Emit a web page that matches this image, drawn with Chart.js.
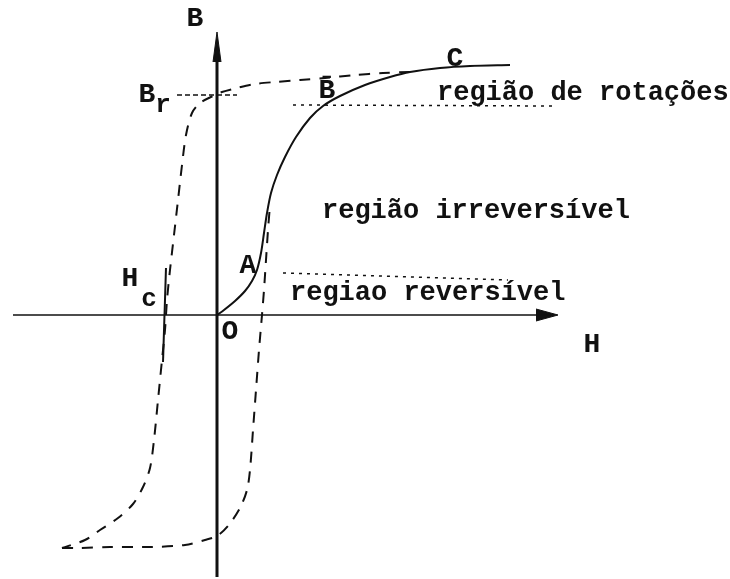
<!DOCTYPE html>
<html>
<head>
<meta charset="utf-8">
<script src="https://cdn.jsdelivr.net/npm/chart.js@4/dist/chart.umd.min.js"></script>
<style>
  html, body { margin: 0; padding: 0; background: #ffffff; }
  #wrap { width: 730px; height: 579px; position: relative; }
</style>
</head>
<body>
<div id="wrap"><canvas id="c"></canvas></div>
<script>
// ---- data (H, B in arbitrary units, origin at O) ----
const H_RANGE = [-21.7, 51.3];
const B_RANGE = [-26.4, 31.5];

// virgin (first magnetisation) curve O -> A -> B -> C
const virginH = [0, 0.7, 1.8, 2.8, 3.5, 4.0, 4.4, 4.7, 5.0, 5.4, 6.0, 6.8, 7.9, 9.3, 10.6, 12.3, 14.8, 17.3, 19.3, 22.3, 25.3, 29.3];
const virginB = [0, 0.5, 1.4, 2.4, 3.4, 4.5, 6.2, 8.2, 10.2, 12.2, 14.0, 15.8, 17.8, 19.7, 20.9, 21.9, 23.0, 23.8, 24.3, 24.7, 24.9, 25.0];

// descending branch of hysteresis loop (through Br and Hc)
const descH = [19.3, 16.6, 13.8, 10.8, 8.3, 5.8, 3.8, 2.0, 0.5, -0.4, -1.7, -2.5, -3.1, -3.5, -3.9, -4.3, -4.7, -5.0, -5.2, -5.5, -5.9, -6.3, -6.7, -7.4, -8.4, -9.9, -11.7, -13.2, -15.5];
const descB = [24.3, 24.2, 24.0, 23.7, 23.5, 23.3, 23.1, 22.7, 22.3, 21.9, 21.2, 20.2, 18.0, 15.0, 11.5, 8.0, 4.5, 1.5, -1.5, -4.5, -8.5, -12.5, -15.3, -17.2, -18.9, -20.3, -21.5, -22.5, -23.3];

// ascending branch of hysteresis loop
const ascH = [-15.5, -13.7, -10.7, -6.7, -3.2, -1.2, 0, 1.1, 2.3, 3.0, 3.3, 3.6, 3.9, 4.2, 4.5, 4.7, 4.9, 5.1, 5.3];
const ascB = [-23.3, -23.3, -23.2, -23.2, -23.0, -22.5, -22.1, -21.1, -19.3, -17.5, -15.5, -11.5, -7.5, -3.5, 0, 2.5, 5.5, 8.5, 11.0];

// axes and guide lines
const axisB_H = [0, 0];       const axisB_B = [-26.2, 26.5];
const arrowB_H = [-0.4, 0, 0.4]; const arrowB_B = [25.3, 28.3, 25.3];
const axisH_H = [-20.4, 33.3]; const axisH_B = [0, 0];
const arrowH_H = [31.9, 34.1, 31.9]; const arrowH_B = [0.6, 0, -0.6];
const hcLineH = [-5.1, -5.4];  const hcLineB = [4.7, -4.7];
const brLineH = [-4.0, 2.0];   const brLineB = [22.0, 22.0];
const rotLineH = [7.6, 33.8];  const rotLineB = [21.0, 20.9];
const revLineH = [6.6, 29.1];  const revLineB = [4.2, 3.5];

// text labels: [text, H, B, align, size]
const labelText  = ["B", "H", "O", "B", "r", "H", "c", "A", "B\u0304", "C"];
const labelH     = [-2.2, 37.5, 1.3, -7.0, -5.4, -8.7, -6.8, 3.1, 11.0, 23.8];
const labelB     = [29.6, -3.0, -1.7, 22.0, 21.0, 3.6, 1.6, 4.9, 22.4, 25.6];
const regionText = ["região de rotações", "região irreversível", "regiao reversível"];
const regionH    = [22.0, 10.5, 7.3];
const regionB    = [21.5, 9.7, 1.5];

// ---- build ----
const pts = (hs, bs) => hs.map((h, i) => ({ x: h, y: bs[i] }));
const INK = '#111111';
function line(hs, bs, opts) {
  return Object.assign({
    data: pts(hs, bs), showLine: true, borderColor: INK, backgroundColor: INK,
    borderWidth: 2, pointRadius: 0, fill: false, tension: 0
  }, opts || {});
}

const textPlugin = {
  id: 'texts',
  afterDatasetsDraw(chart) {
    const ctx = chart.ctx, xs = chart.scales.x, ys = chart.scales.y;
    ctx.save();
    ctx.fillStyle = INK;
    ctx.textAlign = 'center';
    ctx.textBaseline = 'middle';
    labelText.forEach((t, i) => {
      const small = (t === 'r' || t === 'c');
      ctx.font = 'bold ' + (small ? 26 : 28) + 'px "Liberation Mono", "DejaVu Sans Mono", monospace';
      ctx.fillText(t, xs.getPixelForValue(labelH[i]), ys.getPixelForValue(labelB[i]));
    });
    ctx.textAlign = 'left';
    ctx.textBaseline = 'alphabetic';
    ctx.font = 'bold 27px "Liberation Mono", "DejaVu Sans Mono", monospace';
    regionText.forEach((t, i) => {
      ctx.fillText(t, xs.getPixelForValue(regionH[i]), ys.getPixelForValue(regionB[i]));
    });
    ctx.restore();
  }
};

new Chart(document.getElementById('c'), {
  type: 'scatter',
  data: {
    datasets: [
      line(axisB_H, axisB_B, { borderWidth: 3 }),
      line(arrowB_H, arrowB_B, { borderWidth: 1, fill: 'shape' }),
      line(axisH_H, axisH_B, { borderWidth: 1.4 }),
      line(arrowH_H, arrowH_B, { borderWidth: 1, fill: 'shape' }),
      line(virginH, virginB, { borderWidth: 2, tension: 0.3 }),
      line(descH, descB, { borderWidth: 2, tension: 0.3, borderDash: [11, 9] }),
      line(ascH, ascB, { borderWidth: 2, tension: 0.3, borderDash: [11, 9] }),
      line(hcLineH, hcLineB, { borderWidth: 2 }),
      line(brLineH, brLineB, { borderWidth: 1.3, borderDash: [5, 3] }),
      line(rotLineH, rotLineB, { borderWidth: 1.5, borderDash: [3, 5] }),
      line(revLineH, revLineB, { borderWidth: 1.5, borderDash: [3, 5] })
    ]
  },
  options: {
    responsive: true,
    maintainAspectRatio: false,
    animation: false,
    layout: { padding: 0 },
    plugins: { legend: { display: false }, tooltip: { enabled: false }, title: { display: false } },
    scales: {
      x: { type: 'linear', min: H_RANGE[0], max: H_RANGE[1], display: false },
      y: { type: 'linear', min: B_RANGE[0], max: B_RANGE[1], display: false }
    }
  },
  plugins: [textPlugin]
});
</script>
</body>
</html>
